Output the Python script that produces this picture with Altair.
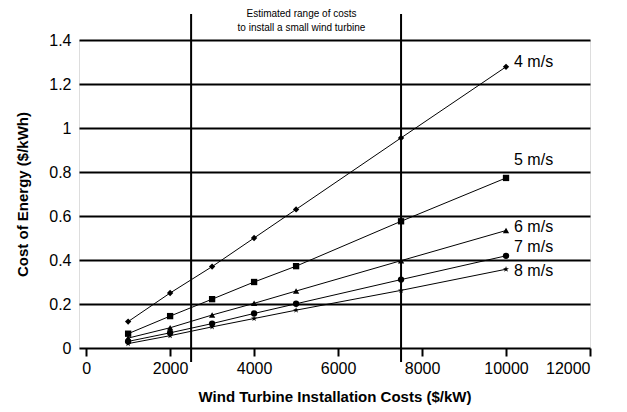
import altair as alt
import pandas as pd

costs = [1000, 2000, 3000, 4000, 5000, 7500, 10000]
series_names = ["4 m/s", "5 m/s", "6 m/s", "7 m/s", "8 m/s"]
v4 = [0.12, 0.25, 0.37, 0.50, 0.63, 0.955, 1.278]
v5 = [0.065, 0.145, 0.222, 0.30, 0.372, 0.576, 0.773]
v6 = [0.045, 0.092, 0.15, 0.203, 0.259, 0.397, 0.534]
v7 = [0.03, 0.069, 0.111, 0.157, 0.201, 0.311, 0.419]
v8 = [0.02, 0.056, 0.096, 0.134, 0.172, 0.262, 0.358]
label_y = [1.30, 0.855, 0.55, 0.458, 0.35]
range_lines = [2500, 7500]
annotation = ["Estimated range of costs", "to install a small wind turbine"]
x_ticks = [0, 2000, 4000, 6000, 8000, 10000, 12000]
y_ticks = [0, 0.2, 0.4, 0.6, 0.8, 1.0, 1.2, 1.4]

W, H = 511, 308
FONT = "Liberation Sans"

rows = []
for name, vals in zip(series_names, [v4, v5, v6, v7, v8]):
    for c, v in zip(costs, vals):
        rows.append({"series": name, "cost": c, "value": v})
df = pd.DataFrame(rows)

lab_df = pd.DataFrame({"series": series_names, "cost": [10000] * 5, "value": label_y})
rule_df = pd.DataFrame({"cost": range_lines})

star = "M0,-1L0.2245,-0.309L0.951,-0.309L0.363,0.118L0.588,0.809L0,0.382L-0.588,0.809L-0.363,0.118L-0.951,-0.309L-0.2245,-0.309Z"

xscale = alt.Scale(domain=[-170, 12000], nice=False, zero=False)
yscale = alt.Scale(domain=[0, 1.4], nice=False)

xaxis = alt.Axis(values=x_ticks, grid=False, domain=False, tickSize=8, tickWidth=2,
                 tickColor="black", labelFontSize=16, labelPadding=4, labelColor="black",
                 format="d",
                 title="Wind Turbine Installation Costs ($/kW)", titleFontSize=15,
                 titleFontWeight="bold", titleColor="black", titleY=48, titleBaseline="middle",
                 labelFont=FONT, titleFont=FONT)
yaxis = alt.Axis(values=y_ticks, grid=True, gridColor="black", gridWidth=2, gridOpacity=1,
                 domain=False, ticks=False, labelPadding=8, labelFontSize=16, labelColor="black",
                 format="~g", title="Cost of Energy ($/kWh)", titleFontSize=15,
                 titleFontWeight="bold", titleColor="black", titleX=-57, titleY=H / 2,
                 titleBaseline="middle", titleAlign="center", labelFont=FONT, titleFont=FONT)

base = alt.Chart(df)

lines = base.mark_line(color="black", strokeWidth=1).encode(
    x=alt.X("cost:Q", scale=xscale, axis=xaxis),
    y=alt.Y("value:Q", scale=yscale, axis=yaxis),
    detail="series:N",
)

points = base.mark_point(filled=True, color="black", opacity=1, size=40).encode(
    x=alt.X("cost:Q", scale=xscale),
    y=alt.Y("value:Q", scale=yscale),
    shape=alt.Shape("series:N", scale=alt.Scale(domain=series_names,
                    range=["diamond", "square", "triangle-up", "circle", star]), legend=None),
)

labels = alt.Chart(lab_df).mark_text(align="left", baseline="middle", dx=8, fontSize=16,
                                     font=FONT, color="black").encode(
    x=alt.X("cost:Q", scale=xscale),
    y=alt.Y("value:Q", scale=yscale),
    text="series:N",
)

rules = alt.Chart(rule_df).mark_rule(color="black", strokeWidth=2).encode(
    x=alt.X("cost:Q", scale=xscale),
    y=alt.value(-26),
    y2=alt.value(H + 14),
)

note = alt.Chart(pd.DataFrame({"t": [annotation]})).mark_text(
    align="center", baseline="top", fontSize=10, font=FONT, color="black", lineHeight=14
).encode(
    x=alt.value((191 + 400) / 2 - 79 + 6),
    y=alt.value(-31),
    text="t",
)

chart = alt.layer(lines, points, labels, rules, note).properties(
    width=W, height=H,
    autosize=alt.AutoSizeParams(type="none"),
    padding={"left": 71, "top": 32, "right": 29, "bottom": 64},
).configure_view(stroke="black", strokeWidth=2).configure(background="white")

chart.save("out.html", embed_options={"renderer": "svg", "actions": False})
